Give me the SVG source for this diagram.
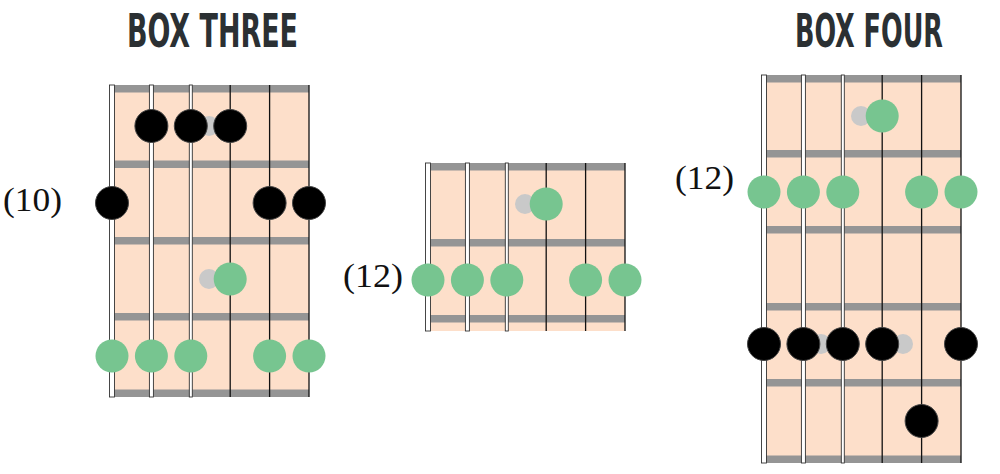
<svg xmlns="http://www.w3.org/2000/svg" width="1000" height="474" viewBox="0 0 1000 474">
<defs>
<style>
.title{font-family:"Liberation Sans Narrow","DejaVu Sans Condensed",sans-serif;font-weight:bold;font-size:32px;fill:#2b3033}
.fretno{font-family:"Liberation Serif","Times New Roman",serif;font-size:34px;fill:#111}
.board{fill:#fddfca}
.fret{fill:#959595}
.ws{fill:#ffffff;stroke:#333;stroke-width:0.9}
.ts{stroke:#111;stroke-width:1.3}
.blk{fill:#000;stroke:#444;stroke-width:1}
.grn{fill:#77c590}
.gry{fill:#c9c9c9}
</style>
</defs>
<rect width="1000" height="474" fill="#ffffff"/>

<text class="title" transform="translate(127,47) scale(1,1.45)" textLength="171" lengthAdjust="spacingAndGlyphs">BOX THREE</text>
<text class="title" transform="translate(795,47) scale(1,1.45)" textLength="148" lengthAdjust="spacingAndGlyphs">BOX FOUR</text>

<g id="box-three">
<rect class="board" x="112" y="85" width="197" height="312"/>
<rect class="fret" x="114" y="85" width="195" height="7.5"/>
<rect class="fret" x="114" y="160.5" width="195" height="7.5"/>
<rect class="fret" x="114" y="237" width="195" height="7.5"/>
<rect class="fret" x="114" y="313" width="195" height="7.5"/>
<rect class="fret" x="114" y="389.5" width="195" height="7.5"/>
<rect class="ws" x="109.5" y="85" width="5" height="312"/>
<rect class="ws" x="149.4" y="85" width="4" height="312"/>
<rect class="ws" x="189.3" y="85" width="3" height="312"/>
<line class="ts" x1="230.2" y1="85" x2="230.2" y2="397"/>
<line class="ts" x1="269.6" y1="85" x2="269.6" y2="397"/>
<line class="ts" x1="309" y1="85" x2="309" y2="397"/>
<text class="fretno" x="3" y="211" textLength="59" lengthAdjust="spacingAndGlyphs">(10)</text>
<circle class="gry" cx="209" cy="126" r="10"/>
<circle class="blk" cx="151.4" cy="126" r="16.5"/>
<circle class="blk" cx="190.8" cy="126" r="16.5"/>
<circle class="blk" cx="230.2" cy="126" r="16.5"/>
<circle class="blk" cx="112" cy="203" r="16.5"/>
<circle class="blk" cx="269.6" cy="203" r="16.5"/>
<circle class="blk" cx="309" cy="203" r="16.5"/>
<circle class="gry" cx="209" cy="279" r="10"/>
<circle class="grn" cx="230.2" cy="279" r="16.5"/>
<circle class="grn" cx="112" cy="356" r="16.5"/>
<circle class="grn" cx="151.4" cy="356" r="16.5"/>
<circle class="grn" cx="190.8" cy="356" r="16.5"/>
<circle class="grn" cx="269.6" cy="356" r="16.5"/>
<circle class="grn" cx="309" cy="356" r="16.5"/>
</g>

<g id="box-middle">
<rect class="board" x="428" y="163" width="197" height="168"/>
<rect class="fret" x="430" y="163" width="195" height="7.5"/>
<rect class="fret" x="430" y="239" width="195" height="7.5"/>
<rect class="fret" x="430" y="315" width="195" height="7.5"/>
<rect class="ws" x="425.5" y="163" width="5" height="168"/>
<rect class="ws" x="465.4" y="163" width="4" height="168"/>
<rect class="ws" x="505.3" y="163" width="3" height="168"/>
<line class="ts" x1="546.2" y1="163" x2="546.2" y2="331"/>
<line class="ts" x1="585.6" y1="163" x2="585.6" y2="331"/>
<line class="ts" x1="625" y1="163" x2="625" y2="331"/>
<text class="fretno" x="343" y="287" textLength="60" lengthAdjust="spacingAndGlyphs">(12)</text>
<circle class="gry" cx="525" cy="204" r="10"/>
<circle class="grn" cx="546.2" cy="204" r="16.5"/>
<circle class="grn" cx="428" cy="280" r="16.5"/>
<circle class="grn" cx="467.4" cy="280" r="16.5"/>
<circle class="grn" cx="506.8" cy="280" r="16.5"/>
<circle class="grn" cx="585.6" cy="280" r="16.5"/>
<circle class="grn" cx="625" cy="280" r="16.5"/>
</g>

<g id="box-four">
<rect class="board" x="764" y="75" width="197" height="388"/>
<rect class="fret" x="766" y="75" width="195" height="7.5"/>
<rect class="fret" x="766" y="150" width="195" height="7.5"/>
<rect class="fret" x="766" y="226" width="195" height="7.5"/>
<rect class="fret" x="766" y="303" width="195" height="7.5"/>
<rect class="fret" x="766" y="379" width="195" height="7.5"/>
<rect class="fret" x="766" y="455.5" width="195" height="7.5"/>
<rect class="ws" x="761.5" y="75" width="5" height="388"/>
<rect class="ws" x="801.4" y="75" width="4" height="388"/>
<rect class="ws" x="841.3" y="75" width="3" height="388"/>
<line class="ts" x1="882.2" y1="75" x2="882.2" y2="463"/>
<line class="ts" x1="921.6" y1="75" x2="921.6" y2="463"/>
<line class="ts" x1="961" y1="75" x2="961" y2="463"/>
<text class="fretno" x="675" y="189" textLength="59" lengthAdjust="spacingAndGlyphs">(12)</text>
<circle class="gry" cx="861" cy="116" r="10"/>
<circle class="grn" cx="882.2" cy="116" r="16.5"/>
<circle class="grn" cx="764" cy="192" r="16.5"/>
<circle class="grn" cx="803.4" cy="192" r="16.5"/>
<circle class="grn" cx="842.8" cy="192" r="16.5"/>
<circle class="grn" cx="921.6" cy="192" r="16.5"/>
<circle class="grn" cx="961" cy="192" r="16.5"/>
<circle class="gry" cx="821" cy="344" r="10"/>
<circle class="gry" cx="903" cy="344" r="10"/>
<circle class="blk" cx="764" cy="344" r="16.5"/>
<circle class="blk" cx="803.4" cy="344" r="16.5"/>
<circle class="blk" cx="842.8" cy="344" r="16.5"/>
<circle class="blk" cx="882.2" cy="344" r="16.5"/>
<circle class="blk" cx="961" cy="344" r="16.5"/>
<circle class="blk" cx="921.6" cy="421" r="16.5"/>
</g>
</svg>
